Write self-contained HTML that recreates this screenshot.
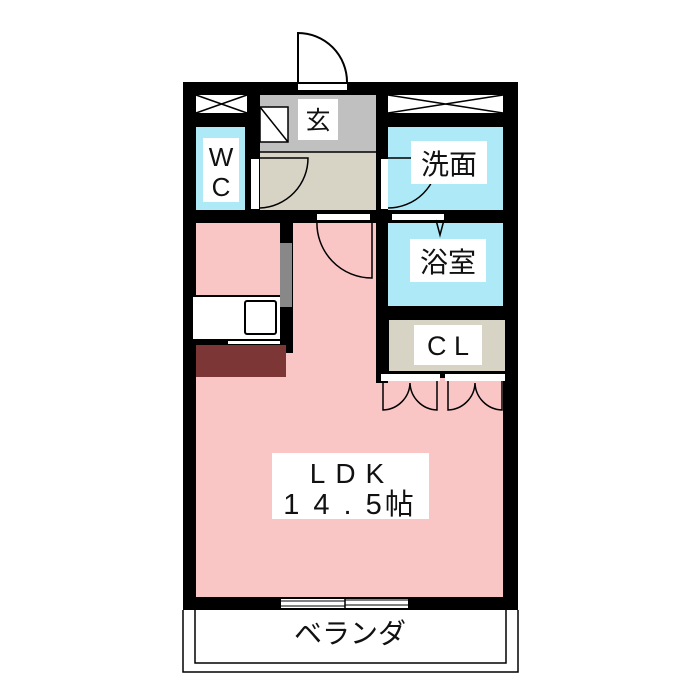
<!DOCTYPE html>
<html><head><meta charset="utf-8"><style>
html,body{margin:0;padding:0;background:#fff;}
svg{display:block;}
text{font-family:"Liberation Sans","Noto Sans CJK JP",sans-serif;fill:#111;}
</style></head><body>
<svg width="700" height="700" viewBox="0 0 700 700" xmlns="http://www.w3.org/2000/svg">
<rect width="700" height="700" fill="#fff"/>
<path d="M298 82 V33 A49 49 0 0 1 347 82" fill="none" stroke="#000" stroke-width="2"/>
<rect x="183" y="82" width="335" height="528" fill="#000"/>
<rect x="298" y="84" width="49" height="6" fill="#fff"/>
<rect x="196" y="95" width="51" height="18" fill="#fff"/>
<path d="M196 95 L247 113 M196 113 L247 95" stroke="#000" stroke-width="1.5"/>
<rect x="388" y="95" width="115" height="18" fill="#fff"/>
<path d="M388 95 L503 113 M388 113 L503 95" stroke="#000" stroke-width="1.5"/>
<rect x="196" y="127" width="49" height="83" fill="#aee9f7"/>
<rect x="203" y="138" width="36" height="64" fill="#fff"/>
<text x="221" y="166" font-size="26" text-anchor="middle">W</text>
<text x="221" y="196" font-size="26" text-anchor="middle">C</text>
<rect x="260" y="95" width="116" height="57" fill="#c0c0c0"/>
<rect x="260" y="107" width="28" height="35" fill="#fff" stroke="#000" stroke-width="1.5"/>
<path d="M260 107 L288 142" stroke="#000" stroke-width="1.5"/>
<rect x="298" y="99" width="40" height="41" fill="#fff"/>
<text x="318" y="129" font-size="25" text-anchor="middle">玄</text>
<rect x="260" y="152" width="116" height="58" fill="#d7d4c6"/>
<line x1="260" y1="152" x2="376" y2="152" stroke="#000" stroke-width="1.5"/>
<rect x="251" y="159" width="8" height="50" fill="#fff"/>
<path d="M260 208 A50 50 0 0 0 308 158 H260" fill="none" stroke="#000" stroke-width="1.5"/>
<rect x="388" y="127" width="115" height="83" fill="#aee9f7"/>
<rect x="381" y="159" width="7" height="50" fill="#fff"/>
<path d="M388 208 A50 50 0 0 0 438 158 H388" fill="none" stroke="#000" stroke-width="1.5"/>
<rect x="411" y="141" width="76" height="43" fill="#fff"/>
<text x="449" y="174" font-size="28" text-anchor="middle">洗面</text>
<rect x="388" y="223" width="115" height="83" fill="#aee9f7"/>
<rect x="392" y="214" width="52" height="6" fill="#fff"/>
<path d="M436 220 L440 235 L444 220" fill="none" stroke="#000" stroke-width="1.5"/>
<rect x="410" y="239" width="76" height="43" fill="#fff"/>
<text x="448" y="272" font-size="28" text-anchor="middle">浴室</text>
<rect x="389" y="320" width="116" height="51" fill="#d7d4c6"/>
<rect x="414" y="325" width="68" height="40" fill="#fff"/>
<text x="448" y="355" font-size="27" text-anchor="middle">C L</text>
<rect x="196" y="223" width="180" height="374" fill="#fac5c5"/>
<rect x="376" y="383" width="127" height="214" fill="#fac5c5"/>
<rect x="388" y="378" width="115" height="5" fill="#fac5c5"/>
<rect x="381" y="374" width="59" height="7" fill="#fff"/>
<rect x="445" y="374" width="60" height="7" fill="#fff"/>
<path d="M383 381 V410 A28 28 0 0 0 410 383 M437 381 V410 A28 28 0 0 1 410 383 M448 381 V410 A28 28 0 0 0 475 383 M502 381 V410 A28 28 0 0 1 475 383" fill="none" stroke="#000" stroke-width="1.5"/>
<rect x="317" y="214" width="53" height="6" fill="#fff"/>
<path d="M317 220 A55 55 0 0 0 372 278 V220" fill="none" stroke="#000" stroke-width="1.5"/>
<rect x="280" y="223" width="13" height="130" fill="#000"/>
<rect x="280" y="243" width="12" height="64" fill="#888"/>
<rect x="193" y="295" width="87" height="2" fill="#000"/>
<rect x="193" y="297" width="87" height="42" fill="#fff"/>
<rect x="245" y="301" width="31" height="33" rx="2" fill="#fff" stroke="#000" stroke-width="2"/>
<rect x="196" y="339" width="84" height="14" fill="#000"/>
<rect x="228" y="341" width="52" height="3" fill="#fff"/>
<rect x="196" y="345" width="90" height="32" fill="#7c3636"/>
<rect x="272" y="453" width="157" height="66" fill="#fff"/>
<text x="352" y="483" font-size="28" text-anchor="middle" letter-spacing="10">LDK</text>
<text x="350" y="514" font-size="29" text-anchor="middle" letter-spacing="3">1 4 .  5帖</text>
<rect x="281" y="599" width="127" height="9" fill="#fff"/>
<path d="M281 601 H345 M345 605 H408 M281 606 H345 M345 600 H408" stroke="#000" stroke-width="1"/>
<line x1="345" y1="598" x2="345" y2="609" stroke="#000" stroke-width="1.5"/>
<path d="M183 610 V672 H518 V610" fill="none" stroke="#000" stroke-width="1.5"/>
<path d="M195 610 V663 H506 V610" fill="none" stroke="#000" stroke-width="1.5"/>
<text x="350" y="643" font-size="28" text-anchor="middle">ベランダ</text>
</svg>
</body></html>
